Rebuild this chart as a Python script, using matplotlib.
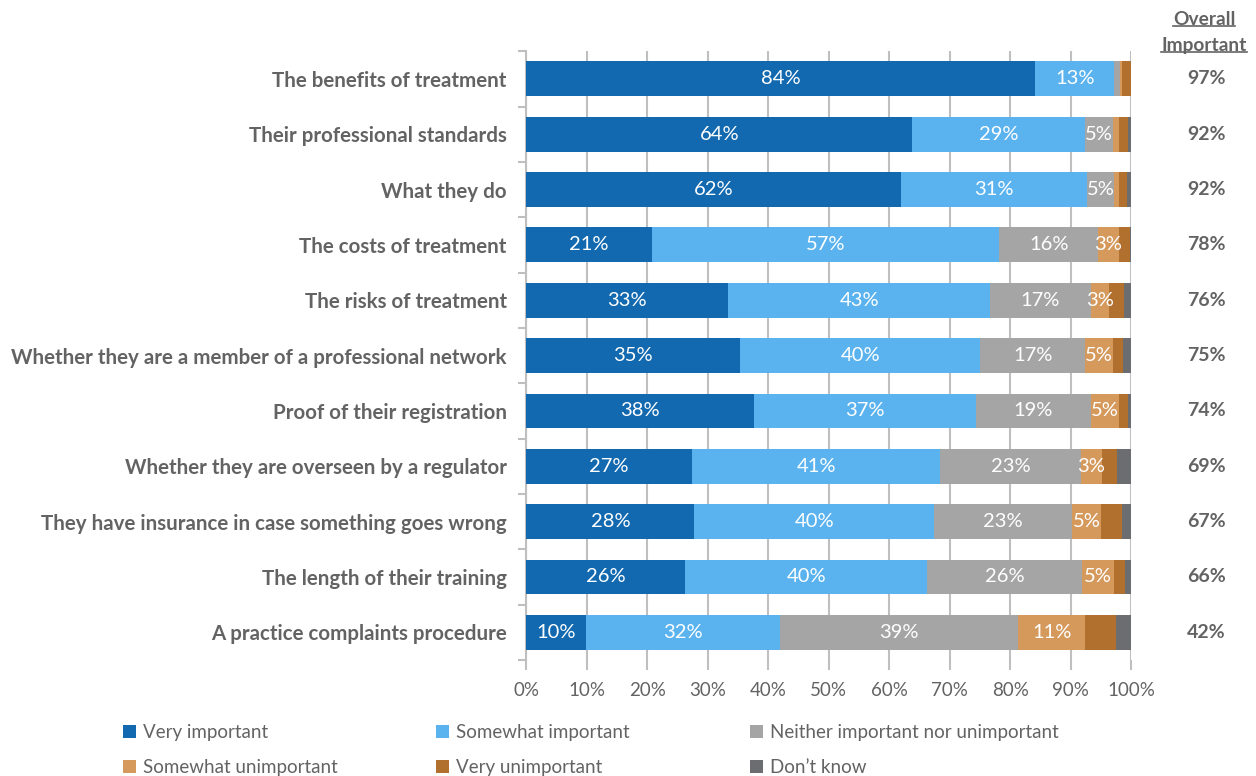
import numpy as np
import matplotlib
matplotlib.use("Agg")
import matplotlib.pyplot as plt
from matplotlib.lines import Line2D

plt.rcParams['font.family'] = ['Lato', 'DejaVu Sans']

categories = [
    "The benefits of treatment",
    "Their professional standards",
    "What they do",
    "The costs of treatment",
    "The risks of treatment",
    "Whether they are a member of a professional network",
    "Proof of their registration",
    "Whether they are overseen by a regulator",
    "They have insurance in case something goes wrong",
    "The length of their training",
    "A practice complaints procedure",
]

series_names = ["Very important", "Somewhat important",
                "Neither important nor unimportant", "Somewhat unimportant",
                "Very unimportant", "Don\u2019t know"]

very_important = [84.1, 63.8, 62.0, 20.8, 33.4, 35.4, 37.7, 27.4, 27.8, 26.3, 9.8]
somewhat_important = [13.1, 28.6, 30.6, 57.4, 43.3, 39.6, 36.6, 41.0, 39.6, 40.0, 32.2]
neither = [0.9, 4.6, 4.6, 16.3, 16.6, 17.4, 19.0, 23.3, 22.8, 25.6, 39.3]
somewhat_unimportant = [0.4, 0.9, 0.8, 3.4, 3.1, 4.6, 4.6, 3.4, 4.8, 5.3, 11.1]
very_unimportant = [1.5, 1.6, 1.3, 1.9, 2.4, 1.7, 1.6, 2.6, 3.5, 1.8, 5.0]
dont_know = [0.0, 0.5, 0.7, 0.2, 1.2, 1.3, 0.5, 2.3, 1.5, 1.0, 2.6]

overall_important = [97, 92, 92, 78, 76, 75, 74, 69, 67, 66, 42]

colors = ["#1269B0", "#5AB3EF", "#A5A5A5", "#D5995C", "#B2702F", "#6B6D70"]
text_gray = "#636363"

series = [very_important, somewhat_important, neither,
          somewhat_unimportant, very_unimportant, dont_know]

fig = plt.figure(figsize=(12.56, 7.76), dpi=100)
ax = fig.add_axes([0.419, 0.1495, 0.4817, 0.7845])

y = np.arange(len(categories))
left = np.zeros(len(categories))
handles = []
for i, (vals, col) in enumerate(zip(series, colors)):
    vals = np.array(vals)
    bars = ax.barh(y, vals, left=left, height=0.63, color=col,
                   edgecolor="none", zorder=3, label=series_names[i])
    handles.append(bars)
    # labels only for the first four series, when big enough
    if i < 4:
        for yy, l, v in zip(y, left, vals):
            if round(v) >= 3:
                ax.text(l + v / 2, yy, f"{round(v)}%", ha="center",
                        va="center", color="white", fontsize=14.5, zorder=4)
    left += vals

ax.set_xlim(0, 100)
ax.set_ylim(len(categories) - 0.5, -0.5)

ax.set_xticks(np.arange(0, 101, 10))
ax.set_xticklabels([f"{t}%" for t in range(0, 101, 10)])
ax.tick_params(axis="x", length=7, width=1.5, color="#BFBFBF",
               labelsize=13.5, labelcolor=text_gray, pad=9)
ax.grid(axis="x", color="#BFBFBF", linewidth=1.5, zorder=0)

ax.set_yticks(y)
ax.set_yticklabels(categories, fontweight="bold", fontsize=14.8, color=text_gray)
ax.set_yticks(np.arange(-0.5, len(categories), 1), minor=True)
ax.tick_params(axis="y", which="major", length=0, pad=14)
ax.tick_params(axis="y", which="minor", length=6, width=1.5, color="#BFBFBF")

for side in ["top", "right", "bottom"]:
    ax.spines[side].set_visible(False)
ax.spines["left"].set_color("#BFBFBF")
ax.spines["left"].set_linewidth(1.5)

# overall important column
for yy, v in zip(y, overall_important):
    ax.text(1.124, yy, f"{v}%", transform=ax.get_yaxis_transform(),
            ha="center", va="center", fontsize=14, fontweight="bold",
            color=text_gray)

fig.canvas.draw()
renderer = fig.canvas.get_renderer()
for word, ypos in [("Overall", 0.975), ("Important", 0.942)]:
    t = fig.text(0.9586, ypos, word, ha="center", va="center", fontsize=13.8,
                 fontweight="bold", color=text_gray)
    bb = t.get_window_extent(renderer).transformed(fig.transFigure.inverted())
    fig.add_artist(Line2D([bb.x0, bb.x1], [bb.y0 + 0.002, bb.y0 + 0.002],
                          color=text_gray, linewidth=1.2))

# legend: three columns placed at fixed positions
col_x = [0.098, 0.347, 0.597]
columns = [[0, 3], [1, 4], [2, 5]]
for cx, idx in zip(col_x, columns):
    leg = fig.legend([handles[i] for i in idx], [series_names[i] for i in idx],
                     loc="upper left", bbox_to_anchor=(cx, 0.067),
                     frameon=False, fontsize=13.5, labelcolor=text_gray,
                     handlelength=0.7, handleheight=0.7, handletextpad=0.35,
                     labelspacing=0.95, borderpad=0, borderaxespad=0)

fig.savefig("out.png", dpi=100)
